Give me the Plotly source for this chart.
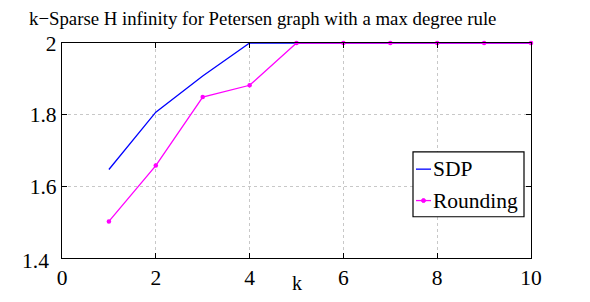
import plotly.graph_objects as go

k = [1, 2, 3, 4, 5, 6, 7, 8, 9, 10]
sdp = [1.647, 1.807, 1.908, 2.0, 2.0, 2.0, 2.0, 2.0, 2.0, 2.0]
rounding = [1.502, 1.658, 1.849, 1.882, 2.0, 2.0, 2.0, 2.0, 2.0, 2.0]
x_ticks = [0, 2, 4, 6, 8, 10]
y_ticks = [1.4, 1.6, 1.8, 2.0]
y_tick_labels = ["1.4", "1.6", "1.8", "2"]
series_names = ["SDP", "Rounding"]
series_colors = ["#0000ff", "#ff00ff"]

FONT = "Liberation Serif"
FS = 21.5
L, R, T, B = 62, 59, 43, 40
W, H = 590, 302
PW, PH = W - L - R, H - T - B


def px(x):
    return (x - L) / PW


def py(y):
    return (H - B - y) / PH


fig = go.Figure()
fig.add_trace(go.Scatter(x=k, y=sdp, mode="lines", name=series_names[0], cliponaxis=False,
                         line=dict(color=series_colors[0], width=1.3)))
fig.add_trace(go.Scatter(x=k, y=rounding, mode="lines+markers", name=series_names[1], cliponaxis=False,
                         line=dict(color=series_colors[1], width=1.3),
                         marker=dict(color=series_colors[1], size=4.5)))

axis_common = dict(showline=True, linecolor="black", linewidth=1.2, mirror="ticks",
                   ticks="inside", ticklen=5, tickcolor="black",
                   showgrid=True, gridcolor="#c8c8c8", griddash="dot", gridwidth=1,
                   zeroline=False, tickfont=dict(family=FONT, size=FS, color="black"))

fig.update_layout(
    width=W, height=H,
    margin=dict(l=L, r=R, t=T, b=B, pad=0),
    paper_bgcolor="white", plot_bgcolor="white",
    font=dict(family=FONT, color="black"),
    showlegend=False,
    xaxis=dict(range=[0, 10], tickvals=x_ticks, ticktext=[str(v) for v in x_ticks],
               **axis_common),
    yaxis=dict(range=[1.4, 2.0], tickvals=y_ticks,
               ticktext=[""] + y_tick_labels[1:], **axis_common),
)

# lowest y tick label, shifted like the original (it sits beside the x "0")
fig.add_annotation(text=y_tick_labels[0], xref="paper", yref="paper",
                   x=px(51), y=py(265), xanchor="right", yanchor="middle",
                   showarrow=False, font=dict(family=FONT, size=FS, color="black"))

# title
fig.add_annotation(text="k\u2212Sparse H infinity for Petersen graph with a max degree rule",
                   xref="paper", yref="paper", x=px(262), y=py(18),
                   xanchor="center", yanchor="middle", showarrow=False,
                   font=dict(family=FONT, size=18.8, color="black"))
# x-axis label
fig.add_annotation(text="k", xref="paper", yref="paper", x=px(297), y=py(301),
                   xanchor="center", yanchor="bottom", showarrow=False,
                   font=dict(family=FONT, size=20, color="black"))

# legend box (MATLAB style)
fig.add_shape(type="rect", xref="paper", yref="paper",
              x0=px(413), x1=px(524), y0=py(154), y1=py(220),
              line=dict(color="black", width=1.2), fillcolor="white", layer="above")
item_y = [171.5, 203.5]
for name, color, yy in zip(series_names, series_colors, item_y):
    fig.add_shape(type="line", xref="paper", yref="paper",
                  x0=px(416), x1=px(431), y0=py(yy), y1=py(yy),
                  line=dict(color=color, width=1.3), layer="above")
    fig.add_annotation(text=name, xref="paper", yref="paper", x=px(431), y=py(yy),
                       xanchor="left", yanchor="middle", showarrow=False,
                       font=dict(family=FONT, size=FS, color="black"))
fig.add_shape(type="circle", xref="paper", yref="paper",
              x0=px(421.5), x1=px(425.5), y0=py(item_y[1] - 2), y1=py(item_y[1] + 2),
              line=dict(color=series_colors[1], width=1), fillcolor=series_colors[1], layer="above")

fig.write_html("out.html", config={"displayModeBar": False},
               post_script="document.body.style.margin='0';")
